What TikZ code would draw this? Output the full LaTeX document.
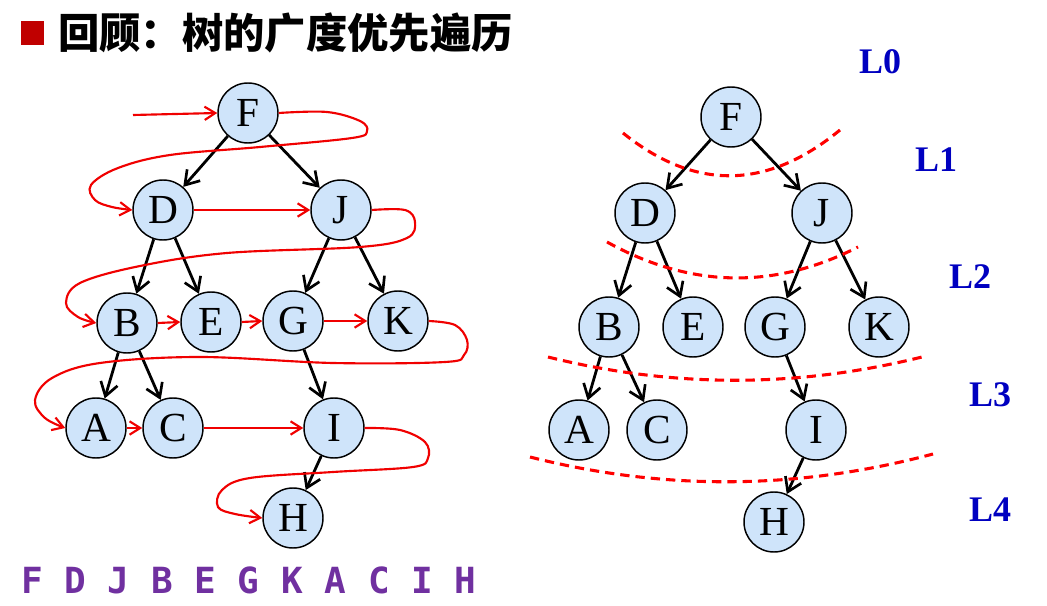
\documentclass[tikz,border=0pt]{standalone}
\usepackage{fontspec}
\usetikzlibrary{arrows.meta}
\newfontfamily\cjk{Noto Sans CJK SC}
\newfontfamily\tms{Liberation Serif}
\newfontfamily\mono{DejaVu Sans Mono}
\definecolor{nodefill}{RGB}{207,228,250}
\definecolor{lvlblue}{RGB}{0,0,192}
\definecolor{seqpurple}{RGB}{112,48,160}
\definecolor{titlered}{RGB}{192,0,0}
\definecolor{trred}{RGB}{240,0,0}
\tikzset{
  tn/.style={circle,draw=black,line width=1.1pt,fill=nodefill,minimum size=45pt,inner sep=0pt,font=\tms\fontsize{31}{31}\selectfont},
  te/.style={line width=2.1pt,-{Straight Barb[length=10pt,width=13pt,line width=2pt]}},
  tr/.style={draw=trred,line width=1.6pt,-{Straight Barb[length=8pt,width=10pt,line width=1.6pt]}},
  lvl/.style={font=\tms\bfseries\fontsize{27}{27}\selectfont,text=lvlblue},
  lvlline/.style={draw=red,line width=2.3pt,dash pattern=on 7pt off 4.5pt}
}
\begin{document}
\begin{tikzpicture}[x=0.75pt,y=-0.75pt]
\useasboundingbox (0,0) rectangle (1047,606);
% title
\fill[titlered] (21,21) rectangle (44,45);
\node[anchor=west,inner sep=0pt,font=\cjk\bfseries\fontsize{31}{31}\selectfont] (title) at (58,33) {回顾：树的广度优先遍历};
% left tree
\node[tn] (lF) at (248,113) {F};
\node[tn] (lD) at (163,210) {D};
\node[tn] (lJ) at (341,210) {J};
\node[tn] (lB) at (127,323) {B};
\node[tn] (lE) at (211,322) {E};
\node[tn] (lG) at (293,321) {G};
\node[tn] (lK) at (398,321) {K};
\node[tn] (lA) at (96,428) {A};
\node[tn] (lC) at (173,428) {C};
\node[tn] (lI) at (334,428) {I};
\node[tn] (lH) at (293,518) {H};
\foreach \a/\b in {lF/lD,lF/lJ,lD/lB,lD/lE,lJ/lG,lJ/lK,lB/lA,lB/lC,lG/lI,lI/lH}
  \draw[te] (\a) -- (\b);
% right tree
\node[tn] (rF) at (731,117) {F};
\node[tn] (rD) at (645,213) {D};
\node[tn] (rJ) at (822,213) {J};
\node[tn] (rB) at (609,327) {B};
\node[tn] (rE) at (693,327) {E};
\node[tn] (rG) at (775,327) {G};
\node[tn] (rK) at (879,327) {K};
\node[tn] (rA) at (579,430) {A};
\node[tn] (rC) at (657,430) {C};
\node[tn] (rI) at (816,430) {I};
\node[tn] (rH) at (774,522) {H};
\foreach \a/\b in {rF/rD,rF/rJ,rD/rB,rD/rE,rJ/rG,rJ/rK,rB/rA,rB/rC,rG/rI,rI/rH}
  \draw[te] (\a) -- (\b);
% level lines
\draw[lvlline] (623,133) .. controls (695,191) and (767,190) .. (840,130);
\draw[lvlline] (607,242) .. controls (690,288) and (774,290) .. (858,247);
\draw[lvlline] (548,357) .. controls (673,388) and (797,388) .. (922,357);
\draw[lvlline] (530,457) .. controls (664,491) and (798,490) .. (933,454);
% level labels
\node[lvl] (L0) at (880,62) {L0};
\node[lvl] (L1) at (936,160) {L1};
\node[lvl] (L2) at (970,277) {L2};
\node[lvl] (L3) at (990,395) {L3};
\node[lvl] (L4) at (990,510) {L4};
% traversal
\coordinate (start) at (133,115);
\draw[tr] (start) -- (lF.west);
\draw[tr] plot[smooth,tension=0.6] coordinates {(lF.east) (327,112) (360,121) (367,131) (352,138) (260,147) (170,155) (118,168) (91,185) (95,200) (112,207) (lD.west)};
\draw[tr] (lD.east) -- (lJ.west);
\draw[tr] plot[smooth,tension=0.6] coordinates {(lJ.east) (405,210) (415,222) (407,238) (360,247) (227,253) (140,266) (80,283) (66,303) (78,317) (lB.west)};
\draw[tr] (lB.east) -- (lE.west);
\draw[tr] (lE.east) -- (lG.west);
\draw[tr] (lG.east) -- (lK.west);
\draw[tr] plot[smooth,tension=0.6] coordinates {(lK.east) (455,325) (467,340) (464,355) (445,362) (333,363) (200,357) (100,363) (52,378) (35,400) (45,418) (lA.west)};
\draw[tr] (lA.east) -- (lC.west);
\draw[tr] (lC.east) -- (lI.west);
\draw[tr] plot[smooth,tension=0.6] coordinates {(lI.east) (400,430) (425,442) (428,458) (413,467) (333,472) (250,478) (222,490) (218,507) (235,514) (lH.west)};
% sequence
\node[anchor=west,inner sep=0pt,text=seqpurple,font=\mono\bfseries\fontsize{27}{27}\selectfont] (seq) at (21,580) {F D J B E G K A C I H};
\end{tikzpicture}
\end{document}
